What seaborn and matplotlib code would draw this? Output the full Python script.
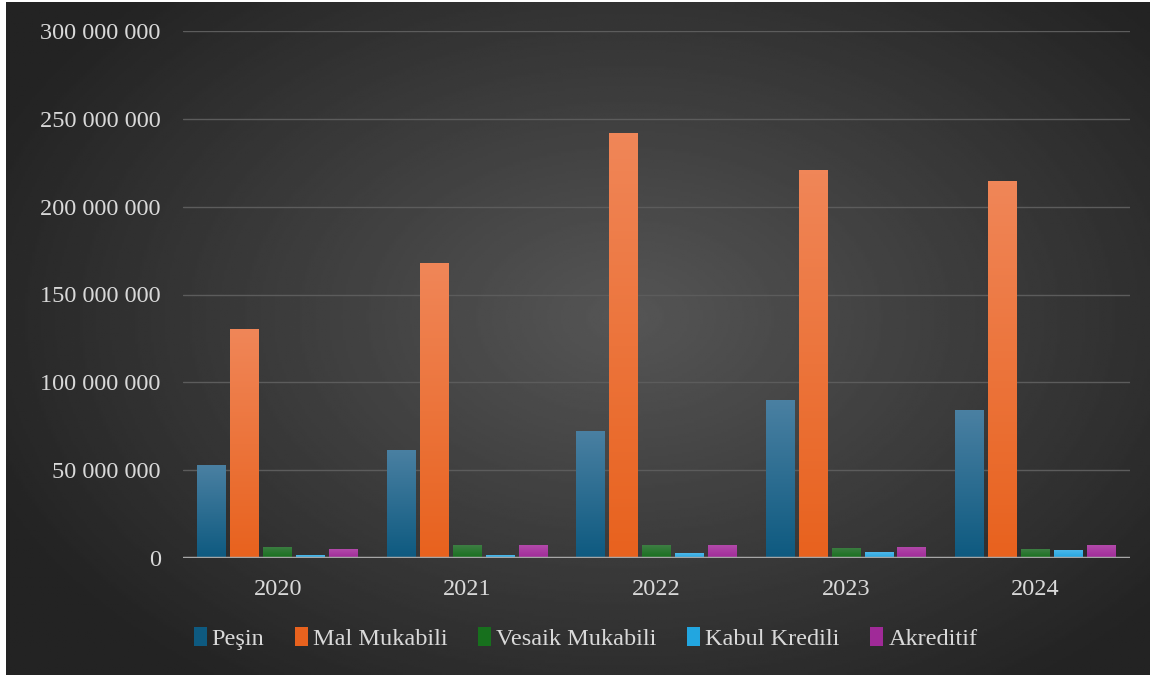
import numpy as np
import pandas as pd
import seaborn as sns
import matplotlib.pyplot as plt
from matplotlib.ticker import FuncFormatter
from matplotlib.colors import LinearSegmentedColormap

years = ['2020', '2021', '2022', '2023', '2024']
pesin = [52.9e6, 61.5e6, 72.3e6, 89.9e6, 84.2e6]
mal_mukabili = [130.3e6, 167.9e6, 241.9e6, 220.8e6, 214.6e6]
vesaik_mukabili = [6.4e6, 7.2e6, 7.4e6, 5.7e6, 5.1e6]
kabul_kredili = [1.7e6, 1.6e6, 2.8e6, 3.4e6, 4.6e6]
akreditif = [5.1e6, 7.2e6, 7.4e6, 6.3e6, 7.4e6]

series = ['Peşin', 'Mal Mukabili', 'Vesaik Mukabili', 'Kabul Kredili', 'Akreditif']
colors = ['#0e5a80', '#e8621e', '#17701d', '#22a6e0', '#a02a98']
tops = ['#4a80a2', '#f08658', '#3e7e44', '#50b8ea', '#b24aaa']

df = pd.DataFrame({
    'year': years * 5,
    'series': [s for s in series for _ in years],
    'value': pesin + mal_mukabili + vesaik_mukabili + kabul_kredili + akreditif,
})

sns.set_style('dark')
plt.rcParams['font.family'] = ['Liberation Serif', 'DejaVu Serif']

fig = plt.figure(figsize=(11.55, 6.75), dpi=100, facecolor='white')

# dark radial background
bg = fig.add_axes([6 / 1155, 0, 1144 / 1155, 673 / 675])
yy, xx = np.mgrid[0:300, 0:500]
r = np.sqrt(((xx - 270) / 260) ** 2 + ((yy - 140) / 175) ** 2)
shade = np.clip(0.335 - 0.17 * r, 0.14, 0.335)
bg.imshow(shade, cmap='gray', vmin=0, vmax=1, aspect='auto', extent=[0, 1, 0, 1])
bg.set_axis_off()

ax = fig.add_axes([183 / 1155, 1 - 558 / 675, 947 / 1155, 527 / 675])
ax.patch.set_alpha(0)

sns.barplot(data=df, x='year', y='value', hue='series', hue_order=series,
            palette=colors, width=0.87, gap=0.13, ax=ax, legend=True,
            saturation=1, errorbar=None, linewidth=0)

# vertical gradient on every bar
ymax = 300e6
for i, cont in enumerate(ax.containers):
    cmap = LinearSegmentedColormap.from_list('g' + str(i), [colors[i], tops[i]])
    for p in cont.patches:
        x0, w, h = p.get_x(), p.get_width(), p.get_height()
        grad = np.linspace(0, 1, 100).reshape(-1, 1)
        im = ax.imshow(grad, cmap=cmap, origin='lower', aspect='auto',
                       extent=[x0, x0 + w, 0, h], zorder=p.get_zorder() + 0.1)
        im.set_clip_path(p)

ax.set_xlim(-0.5, 4.5)
ax.set_ylim(0, ymax)
ax.set_yticks(np.arange(0, 300e6 + 1, 50e6))
ax.yaxis.set_major_formatter(FuncFormatter(lambda v, _: f'{int(v):,}'.replace(',', ' ')))
ax.grid(axis='y', color='#5c5c5c', linewidth=1)
ax.set_axisbelow(True)
ax.axhline(0, color='#a6a6a6', linewidth=2.5, zorder=5)
for s in ax.spines.values():
    s.set_visible(False)
ax.tick_params(axis='both', length=0, labelsize=17.5, colors='#d9d9d9', pad=15)
ax.tick_params(axis='y', pad=16)
ax.set_xlabel('')
ax.set_ylabel('')

handles, labels = ax.get_legend_handles_labels()
for h in handles:
    h.set_linewidth(0)
ax.legend(handles, labels, loc='center', bbox_to_anchor=(0.425, -0.153), ncol=5,
          frameon=False, fontsize=17.5, labelcolor='#d9d9d9', handlelength=0.55,
          handleheight=0.85, handletextpad=0.2, columnspacing=1.25)

fig.savefig('out.png', dpi=100, facecolor='white')
